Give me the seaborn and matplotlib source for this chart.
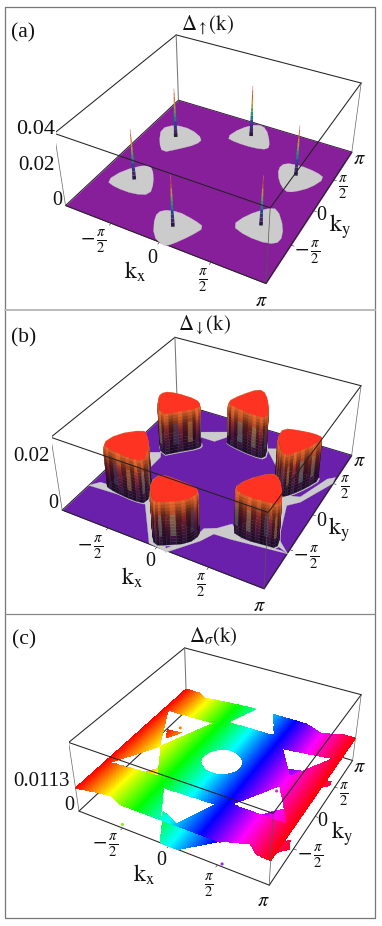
import numpy as np
import matplotlib
matplotlib.use('Agg')
import matplotlib.pyplot as plt
import seaborn as sns
from matplotlib.path import Path
from matplotlib.lines import Line2D
from mpl_toolkits.mplot3d.art3d import Poly3DCollection

sns.set_theme(style='white')
plt.rcParams['font.family'] = ['Liberation Serif', 'DejaVu Serif']
plt.rcParams['mathtext.fontset'] = 'stix'

W, H = 382, 926
PI = np.pi

# all k values below are in units of pi
pockets_a = [
    [(-.88,.45),(-.79,.57),(-.61,.58),(-.43,.49),(-.44,.38),(-.56,.23),(-.66,.12),(-.77,.24)],
    [(-.21,.64),(-.16,.84),(-.04,.99),(.07,.96),(.20,.76),(.23,.65),(.10,.61),(-.09,.61)],
    [(.47,.41),(.49,.52),(.63,.55),(.80,.53),(.90,.48),(.84,.30),(.73,.17),(.66,.14),(.55,.25)],
    [(.45,-.51),(.50,-.34),(.62,-.17),(.70,-.14),(.84,-.33),(.89,-.50),(.81,-.57),(.61,-.57)],
    [(-.21,-.74),(-.20,-.64),(-.07,-.59),(.11,-.62),(.23,-.66),(.18,-.80),(.09,-.97),(.04,-1.01),(-.09,-.95)],
    [(-.88,-.52),(-.83,-.32),(-.69,-.15),(-.61,-.17),(-.49,-.34),(-.43,-.50),(-.56,-.56),(-.75,-.56)],
]
spike_kx = [-.67, 0, .66, .67, 0, -.66]
spike_ky = [.39, .77, .39, -.40, -.78, -.39]
spike_h = [.029, .030, .029, .028, .029, .029]

pillars_b = [
    [(-.84,.37),(-.84,.49),(-.71,.53),(-.47,.52),(-.38,.45),(-.39,.38),(-.53,.24),(-.65,.11)],
    [(-.20,.61),(-.14,.79),(-.02,.99),(.08,.94),(.22,.71),(.27,.54),(.14,.53),(-.10,.57)],
    [(.48,.32),(.47,.47),(.62,.51),(.78,.53),(.87,.50),(.80,.31),(.71,.15),(.65,.09),(.57,.16)],
    [(.46,-.53),(.51,-.36),(.67,-.17),(.76,-.22),(.87,-.41),(.90,-.54),(.79,-.55),(.62,-.57)],
    [(-.19,-.76),(-.17,-.64),(-.01,-.64),(.19,-.65),(.25,-.70),(.21,-.84),(.05,-.95),(-.03,-.99),(-.12,-.89)],
    [(-.87,-.53),(-.83,-.33),(-.65,-.16),(-.58,-.20),(-.47,-.34),(-.38,-.57),(-.51,-.59),(-.73,-.57)],
]
pillar_h = .018
gray_b = [
    [(-1.01,-.60),(-.94,-.51),(-.45,-.47),(-.20,-.69),(.10,-1.01),(-.09,-.99),(-.41,-.56)],
    [(.22,-.71),(.23,-.61),(.33,-.55),(.42,-.44),(.57,-.57),(.94,-.54),(1.00,-.55),(.50,-.62),(.34,-.63),(.28,-.76),(.09,-1.02),(.06,-.99)],
    [(-.47,.57),(-.31,.57),(-.23,.70),(-.27,.78),(-.51,.65)],
    [(-.65,-.12),(-.65,.09),(-.69,.16),(-.80,.10)],
    [(.21,.71),(.44,.46),(.45,.59),(.33,.77)],
    [(.66,.13),(.80,.18),(.92,.54),(.98,.60),(.99,.50),(.83,.11),(.74,.01),(.86,-.42),(1.00,-.55),(.88,-.50),(.66,-.03)],
]

plate_z = .0113
hole_center = [(-.19,-.10),(-.21,.04),(-.11,.20),(.05,.21),(.19,.10),(.21,-.06),(.10,-.19),(-.06,-.20)]
holes_c = [
    [(-.94,.53),(-.40,.55),(-.67,-.07)],
    [(-.11,1.06),(-.27,.64),(.25,.65),(.05,1.07)],
    [(-.99,1.08),(-.88,1.03),(-.73,.94),(-.58,.96),(-.09,1.02),(-.11,1.10)],
    [(.31,1.09),(.49,.99),(.65,.92),(.79,.96),(.97,1.05),(.94,1.13)],
    [(-1.01,-1.01),(-.78,-.96),(-.64,-.94),(-.48,-1.01),(-.07,-1.01),(-.03,-1.06),(-.94,-1.06)],
    [(-.94,-.52),(-.66,-.06),(-.43,-.48)],
    [(-.28,-.61),(.25,-.59),(.08,-.98),(-.04,-.92),(-.11,-.89),(-.07,-1.00)],
    [(.53,-.99),(.76,-.90),(.86,-.99),(1.00,-1.00),(1.02,-1.04),(.57,-1.05)],
    [(.43,.48),(.92,.56),(.67,.11)],
    [(.65,-.07),(.39,-.51),(.93,-.52)],
]
low_c = [
    [(-.29,-.62),(-.11,-.70),(.39,-.72),(.09,-1.01),(-.09,-1.00),(-.18,-.84)],
    [(-.99,.56),(-.82,.59),(-.91,.42)],
    [(-.81,-.24),(-.70,-.07),(-.65,-.18)],
    [(.46,.54),(.60,.59),(.54,.45)],
    [(.53,-.25),(.62,-.12),(.70,-.04),(.81,-.22),(.67,-.23)],
    [(.84,.54),(.94,.57),(.95,.50),(.85,.39)],
    [(.86,-.47),(.93,-.41),(.97,-.52),(.90,-.60),(.88,-.64)],
]
dot_kx = [-.88, .27, .52, -.53, .53]
dot_ky = [.66, .90, .17, -.96, -.97]
dot_col = ['#ff8800', '#2222cc', '#dd22dd', '#88ee22', '#9922ee']

views = {
    'a': dict(elev=36.08, azim=-61.62, focal=.44, ry=1.0, rz=.40, s=(5046.5, 646.0, 430.4), yoff=0, zmax=.04),
    'b': dict(elev=36.03, azim=-61.57, focal=.44, ry=1.01, rz=.40, s=(5105.7, 641.3, 426.0), yoff=305, zmax=.03),
    'c': dict(elev=36.19, azim=-61.46, focal=.46, ry=1.0, rz=.40, s=(4813.3, 665.5, 420.5), yoff=612, zmax=.032),
}

fig = plt.figure(figsize=(W/100, H/100), dpi=100, facecolor='white')


def lim(ax, v):
    ax.set_xlim(-PI, PI, view_margin=0)
    ax.set_ylim(-PI, PI, view_margin=0)
    ax.set_zlim(0, v['zmax'], view_margin=0)


def make_ax(v):
    ax = fig.add_axes([0, 0, 1, 1], projection='3d', computed_zorder=False)
    ax.set_axis_off()
    ax.patch.set_alpha(0)
    ax.view_init(v['elev'], v['azim'])
    ax.set_proj_type('persp', focal_length=v['focal'])
    ax.set_box_aspect((1, v['ry'], v['rz']))
    lim(ax, v)
    a, c, d = v['s']
    w = a*.185/3
    x0 = (c - a*.095)/3
    bot = (d + a*.095)/3 + v['yoff']
    ax.set_position([x0/W, (H-bot)/H, w/W, w/H])
    return ax


def chaikin(pts, n=1):
    p = np.array(pts, float)
    for _ in range(n):
        q = np.roll(p, -1, axis=0)
        p = np.c_[.75*p + .25*q, .25*p + .75*q].reshape(-1, 2)
    return p


def flat(ax, pts, z, color, zorder):
    p = np.asarray(pts)*PI
    verts = [np.c_[p, np.full(len(p), z)]]
    ax.add_collection3d(Poly3DCollection(verts, facecolors=color, edgecolors=color, linewidths=.2, zorder=zorder))


def line(ax, p, q, zorder, lw=.75, color='#222222'):
    ax.plot([p[0], q[0]], [p[1], q[1]], [p[2], q[2]], color=color, lw=lw, zorder=zorder, solid_capstyle='round')


def box(ax, v):
    z = v['zmax']
    L, F, R, B = (-PI, -PI), (PI, -PI), (PI, PI), (-PI, PI)
    for p, q in [(L, B), (B, R)]:
        line(ax, (*p, 0), (*q, 0), 1)
        line(ax, (*p, z), (*q, z), 1)
    line(ax, (*B, 0), (*B, z), 1, color='#777777')
    for p, q in [(L, F), (F, R)]:
        line(ax, (*p, 0), (*q, 0), 3)
        line(ax, (*p, z), (*q, z), 60)
    line(ax, (*L, 0), (*L, z), 60, lw=.5, color='#666666')
    line(ax, (*R, 0), (*R, z), 60, lw=.5, color='#666666')
    line(ax, (*F, 0), (*F, z), 60, lw=.5, color='#555555')
    for t in (-PI/2, 0, PI/2):
        line(ax, (t, -PI, 0), (t, -PI*1.03, 0), 3, lw=.4)
        line(ax, (PI, t, 0), (PI*1.03, t, 0), 3, lw=.4)


def labels(v, items):
    for (x, y, s, fs, ha) in items:
        fig.text(x/3/W, 1-(y/3+v['yoff'])/H, s, fontsize=fs, ha=ha, va='center', color='#111111')


PIH = r'$\frac{\pi}{2}$'
MPIH = r'$-\,\frac{\pi}{2}$'
PIS = r'$\pi$'
KX = r'$\mathrm{k}_{\mathrm{x}}$'
KY = r'$\mathrm{k}_{\mathrm{y}}$'
FT, FN, FF, FK, FA = 15, 14.5, 15, 17, 15.5  # tick, zero, fraction, axis name, panel letter

# (a)
v = views['a']
ax = make_ax(v)
box(ax, v)
flat(ax, [(-1, -1), (1, -1), (1, 1), (-1, 1)], 0, '#861f99', 2)
for poc in pockets_a:
    o = chaikin(poc)
    flat(ax, o.mean(axis=0) + (o-o.mean(axis=0))*1.05, 0, '#cbcbcb', 4)
spike_cols = sns.blend_palette(['#2a1a40', '#4a2a70', '#2a3a90', '#1f7a90', '#3a9a60', '#a0a040', '#d09030', '#c04020', '#d87060'], 12)
order = np.argsort(.476*np.array(spike_kx) - .88*np.array(spike_ky))
for i in order:
    lev = np.linspace(0, spike_h[i], 13)
    for j in range(12):
        ax.plot([spike_kx[i]*PI]*2, [spike_ky[i]*PI]*2, lev[j:j+2], color=spike_cols[j],
                lw=2.6 - 2.2*j/11, zorder=10 + i, solid_capstyle='butt')
lim(ax, v)
labels(v, [(70, 100, '(a)', FA, 'center'), (622, 75, r'$\Delta_{\uparrow}(\mathrm{k})$', 15, 'center'),
           (165, 388, '0.04', 16, 'right'), (165, 495, '0.02', FT, 'right'), (186, 602, '0', FN, 'right'),
           (280, 725, MPIH, FF, 'center'), (457, 775, '0', FN, 'center'), (610, 842, PIH, FF, 'center'),
           (785, 903, PIS, FN, 'center'), (405, 815, KX, FK, 'center'), (1020, 680, KY, FK, 'center'),
           (1078, 478, PIS, FN, 'center'), (1030, 563, PIH, FF, 'center'), (963, 648, '0', FN, 'center'),
           (922, 760, MPIH, FF, 'center')])

# (b)
v = views['b']
ax = make_ax(v)
box(ax, v)
flat(ax, [(-1, -1), (1, -1), (1, 1), (-1, 1)], 0, '#6a20aa', 2)
for g in gray_b:
    flat(ax, g, 0, '#cbcbcb', 4)
n_lev = 14
wall_cols = sns.blend_palette(['#1f0e2c', '#2e1030', '#3f122c', '#571a28', '#732622', '#a04820', '#d8602a'], n_lev)
wall_lev = np.linspace(0, 1, n_lev + 1)
stripe_gain = [1.0, .75, 1.25, .85, 1.4, .75, 1.1, .8, 1.3, .9, .7, 1.2, .85, 1.35]
stripe_tint = [None, None, '#4aa088', None, None, None, '#c8b040', None, None, '#3a70b0', None, None, None, '#60a050']
order = np.argsort([.476*np.mean(p, axis=0)[0] - .88*np.mean(p, axis=0)[1] for p in pillars_b])
for rank, i in enumerate(order):
    o = chaikin(pillars_b[i], 1)
    c0 = o.mean(axis=0)
    flat(ax, c0 + (o-c0)*1.04, 0, '#cbcbcb', 4)
    polys, cols = [], []
    n = len(o)
    idx = 0
    for j in range(n):
        a0, a1 = o[j]-c0, o[(j+1) % n]-c0
        for t in range(2):
            b0 = a0 + (a1-a0)*t/2
            b1 = a0 + (a1-a0)*(t+1)/2
            k = (idx + 5*i) % len(stripe_gain)
            idx += 1
            for m in range(n_lev):
                f0, f1 = wall_lev[m], wall_lev[m+1]
                # shoulder near the top edge, no taper below it
                s0 = 1 - .05*max(0, f0-.9)/.1
                s1 = 1 - .05*max(0, f1-.9)/.1
                fade = 1 if f0 < .7 else max(0, (1-f0)/.3)
                col = np.array(wall_cols[m])
                if stripe_tint[k] is not None and .15 < f0 < .7:
                    col = .7*col + .3*np.array(matplotlib.colors.to_rgb(stripe_tint[k]))
                col = np.clip(col*(1 + (stripe_gain[k]-1)*fade), 0, 1)
                polys.append([(*(c0+b0*s0)*PI, f0*pillar_h), (*(c0+b1*s0)*PI, f0*pillar_h),
                              (*(c0+b1*s1)*PI, f1*pillar_h), (*(c0+b0*s1)*PI, f1*pillar_h)])
                cols.append(tuple(col))
    ax.add_collection3d(Poly3DCollection(polys, facecolors=cols, edgecolors=cols, linewidths=.2, zorder=10+2*rank))
    flat(ax, c0 + (o-c0)*.95, pillar_h, '#ff3322', 11+2*rank)
lim(ax, v)
labels(v, [(72, 100, '(b)', FA, 'center'), (615, 60, r'$\Delta_{\downarrow}(\mathrm{k})$', 15, 'center'),
           (150, 455, '0.02', FT, 'right'), (176, 597, '0', FN, 'right'),
           (272, 730, MPIH, FF, 'center'), (450, 770, '0', FN, 'center'), (603, 842, PIH, FF, 'center'),
           (777, 905, PIS, FN, 'center'), (397, 820, KX, FK, 'center'), (1018, 675, KY, FK, 'center'),
           (1078, 470, PIS, FN, 'center'), (1035, 548, PIH, FF, 'center'), (963, 648, '0', FN, 'center'),
           (918, 760, MPIH, FF, 'center')])

# (c)
v = views['c']
ax = make_ax(v)
box(ax, v)
n_grid = 320
gx = np.linspace(-1, 1, n_grid)
X, Y = np.meshgrid(gx, gx)
pts = np.c_[X.ravel(), Y.ravel()]
hue = np.array(sns.hls_palette(n_grid, h=0, l=.5, s=1))
fc = np.dstack([hue[None, :, 0].repeat(n_grid, 0), hue[None, :, 1].repeat(n_grid, 0),
                hue[None, :, 2].repeat(n_grid, 0), np.ones((n_grid, n_grid))])
in_hole = np.zeros(len(pts), bool)
for h_ in [chaikin(hole_center, 2)] + holes_c:
    in_hole |= Path(np.asarray(h_)).contains_points(pts)
in_low = np.zeros(len(pts), bool)
for l_ in low_c:
    in_low |= Path(np.asarray(l_)).contains_points(pts)
Z_low = np.where(in_low, 0., np.nan).reshape(n_grid, n_grid)
Z_top = np.where(in_hole, np.nan, plate_z).reshape(n_grid, n_grid)
ax.plot_surface(X*PI, Y*PI, Z_low, facecolors=fc, rstride=1, cstride=1, shade=False, antialiased=False, linewidth=0, zorder=5)
ax.scatter(np.array(dot_kx)*PI, np.array(dot_ky)*PI, np.zeros(5), c=dot_col, s=5, linewidths=0, depthshade=False, zorder=6)
ax.plot_surface(X*PI, Y*PI, Z_top, facecolors=fc, rstride=1, cstride=1, shade=False, antialiased=False, linewidth=0, zorder=10)
lim(ax, v)
labels(v, [(72, 85, '(c)', FA, 'center'), (640, 75, r'$\Delta_{\sigma}(\mathrm{k})$', 15, 'center'),
           (210, 510, '0.0113', FT, 'right'), (222, 580, '0', FN, 'right'),
           (315, 703, MPIH, FF, 'center'), (485, 745, '0', FN, 'center'), (628, 822, PIH, FF, 'center'),
           (790, 870, PIS, FN, 'center'), (433, 790, KX, FK, 'center'), (1025, 665, KY, FK, 'center'),
           (1078, 465, PIS, FN, 'center'), (1033, 548, PIH, FF, 'center'), (968, 630, '0', FN, 'center'),
           (930, 735, MPIH, FF, 'center')])

# panel frames
for xs, ys, c_, lw in [((5.3, 5.3), (6.7, 918), '#777777', .9), ((375.3, 375.3), (6.7, 918), '#777777', .9),
                       ((5.3, 375.3), (6.7, 6.7), '#777777', .9), ((5.3, 375.3), (310, 310), '#bbbbbb', 1.4),
                       ((5.3, 375.3), (614, 614), '#888888', .9), ((5.3, 375.3), (918, 918), '#777777', .9)]:
    fig.add_artist(Line2D([x/W for x in xs], [1-y/H for y in ys], color=c_, lw=lw))

fig.savefig('out.png', dpi=100)
